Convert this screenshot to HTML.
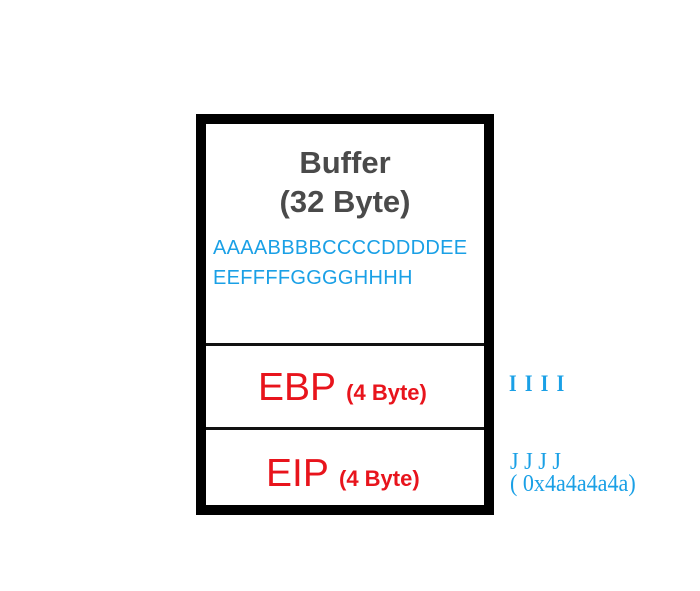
<!DOCTYPE html>
<html><head><style>
body{margin:0;width:700px;height:591px;background:#fff;position:relative;overflow:hidden;font-family:"Liberation Sans",sans-serif}
.a{position:absolute;white-space:nowrap}
</style></head><body>
<div class="a" style="left:196px;top:114px;width:278px;height:381px;border:10px solid #000;"></div>
<div class="a" style="left:206px;top:343px;width:278px;height:3px;background:#111"></div>
<div class="a" style="left:206px;top:427px;width:278px;height:3px;background:#111"></div>
<div class="a" style="left:206px;top:143px;width:278px;text-align:center;color:#4a4a4a;font-size:31px;line-height:39px;font-weight:bold">Buffer<br>(32 Byte)</div>
<div class="a" style="left:213px;top:233px;color:#1aa0e6;font-size:20px;line-height:30px;letter-spacing:0.3px">AAAABBBBCCCCDDDDEE<br>EEFFFFGGGGHHHH</div>
<div class="a" style="left:258px;top:366px;color:#e8141c;font-size:39px;line-height:44px">EBP <span style="font-size:22px;font-weight:bold">(4 Byte)</span></div>
<div class="a" style="left:266px;top:452px;color:#e8141c;font-size:39px;line-height:44px">EIP <span style="font-size:22px;font-weight:bold">(4 Byte)</span></div>
<div class="a" style="left:509px;top:371px;color:#1aa0e6;font-family:'Liberation Serif',serif;font-size:23px;font-weight:bold;letter-spacing:2px;transform:scaleX(0.85);transform-origin:left">I I I I</div>
<div class="a" style="left:510px;top:451px;color:#1aa0e6;font-family:'Liberation Serif',serif;font-size:24px;line-height:22px;transform:scaleX(0.92);transform-origin:left">J J J J<br>( 0x4a4a4a4a)</div>
</body></html>
